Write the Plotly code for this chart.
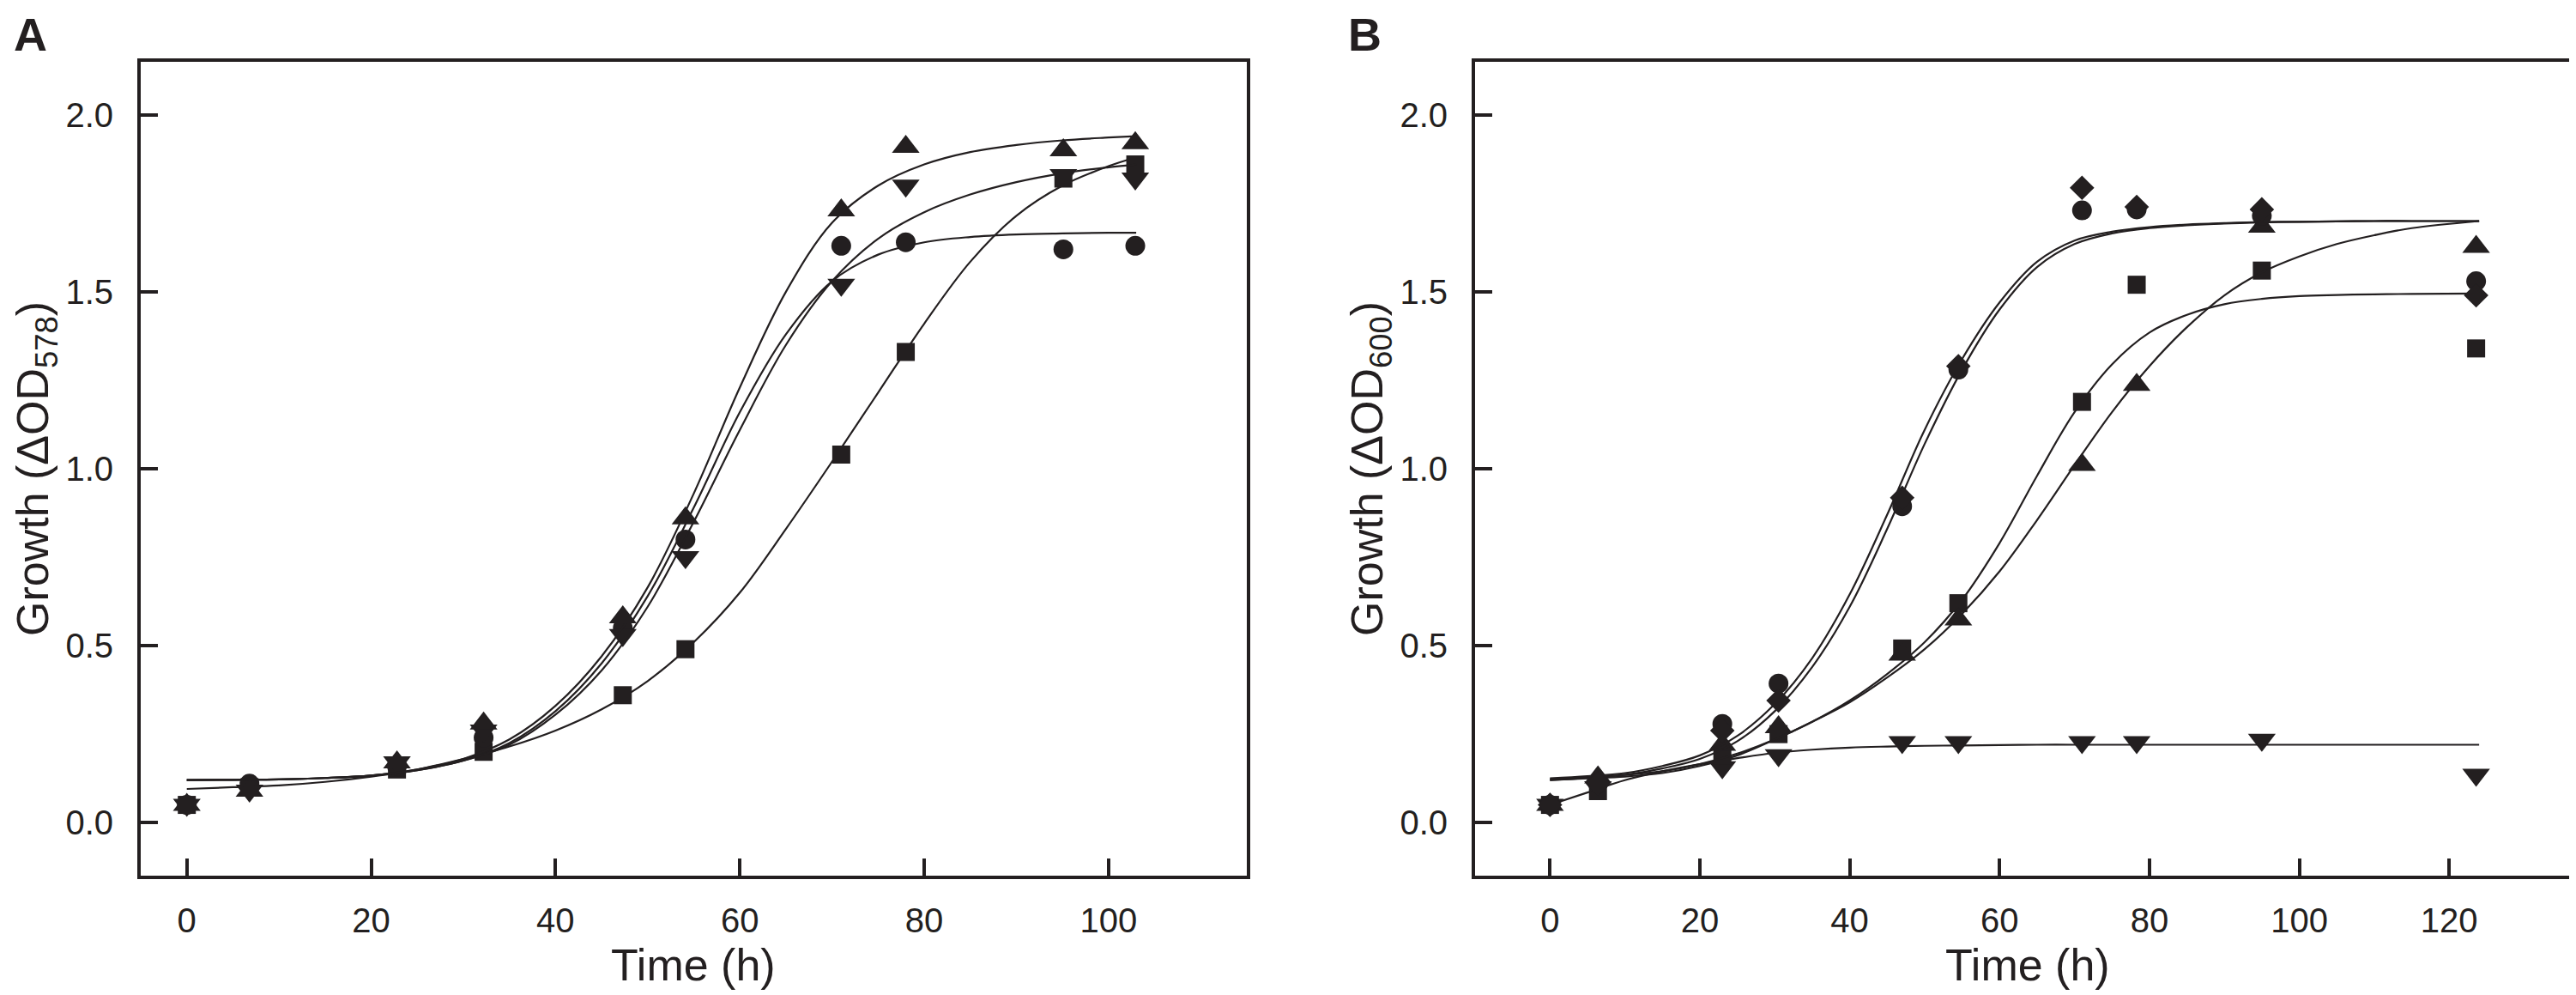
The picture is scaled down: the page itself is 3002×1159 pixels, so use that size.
import plotly.graph_objects as go

INK = "#231f20"
FONT = "Liberation Sans, Arial, sans-serif"

# ---- panel A: growth measured at OD578 ----
time_a = [0, 6.8, 22.8, 32.2, 47.3, 54.1, 71.0, 78.0, 95.1, 102.9]
a_tri_up = [0.05, 0.09, 0.17, 0.28, 0.58, 0.86, 1.73, 1.91, 1.90, 1.92]
a_tri_down = [0.05, 0.09, 0.17, 0.26, 0.53, 0.75, 1.52, 1.80, 1.83, 1.82]
a_circle = [0.05, 0.11, 0.16, 0.24, 0.55, 0.80, 1.63, 1.64, 1.62, 1.63]
a_square = [0.05, 0.10, 0.15, 0.20, 0.36, 0.49, 1.04, 1.33, 1.82, 1.86]

# fitted curves, every 5 h
fit_time_a = [0, 5, 10, 15, 20, 25, 30, 35, 40, 45, 50, 55, 60, 65, 70, 75, 80, 85, 90, 95, 100, 103]
fit_a_tri_up = [0.12, 0.121, 0.122, 0.126, 0.133, 0.15, 0.18, 0.235, 0.33, 0.47, 0.665, 0.93, 1.23, 1.50, 1.695, 1.80, 1.86, 1.895, 1.915, 1.928, 1.936, 1.94]
fit_a_circle = [0.12, 0.121, 0.122, 0.126, 0.133, 0.148, 0.175, 0.225, 0.315, 0.45, 0.64, 0.89, 1.16, 1.38, 1.53, 1.605, 1.64, 1.655, 1.662, 1.665, 1.667, 1.667]
fit_a_tri_down = [0.12, 0.121, 0.122, 0.126, 0.133, 0.148, 0.175, 0.22, 0.305, 0.43, 0.61, 0.85, 1.11, 1.35, 1.53, 1.65, 1.725, 1.775, 1.81, 1.835, 1.852, 1.86]
fit_a_square = [0.095, 0.10, 0.105, 0.115, 0.13, 0.15, 0.18, 0.215, 0.26, 0.32, 0.40, 0.51, 0.65, 0.83, 1.02, 1.215, 1.41, 1.585, 1.715, 1.80, 1.855, 1.88]

# ---- panel B: growth measured at OD600 ----
time_b = [0, 6.4, 23.0, 30.5, 47.0, 54.5, 71.0, 78.3, 95.0, 123.6]
b_diamond = [0.05, 0.11, 0.26, 0.345, 0.918, 1.29, 1.794, 1.74, 1.733, 1.49]
b_circle = [0.05, 0.11, 0.279, 0.393, 0.894, 1.28, 1.73, 1.733, 1.715, 1.53]
b_tri_up = [0.05, 0.128, 0.22, 0.27, 0.475, 0.574, 1.011, 1.237, 1.684, 1.627]
b_square = [0.05, 0.089, 0.19, 0.25, 0.492, 0.62, 1.189, 1.52, 1.56, 1.34]
b_tri_down = [0.05, 0.10, 0.156, 0.19, 0.227, 0.227, 0.227, 0.227, 0.234, 0.135]

fit_time_b = [0, 5, 10, 15, 20, 25, 30, 35, 40, 45, 50, 55, 60, 65, 70, 75, 80, 85, 90, 95, 100, 105, 110, 115, 124]
fit_b_diamond = [0.125, 0.131, 0.14, 0.16, 0.19, 0.245, 0.335, 0.465, 0.645, 0.87, 1.11, 1.31, 1.47, 1.585, 1.645, 1.67, 1.683, 1.69, 1.694, 1.697, 1.698, 1.699, 1.70, 1.70, 1.70]
fit_b_circle = [0.12, 0.126, 0.135, 0.153, 0.18, 0.23, 0.315, 0.44, 0.61, 0.83, 1.07, 1.28, 1.45, 1.57, 1.635, 1.665, 1.68, 1.688, 1.693, 1.696, 1.698, 1.699, 1.70, 1.70, 1.70]
fit_b_tri_up = [0.123, 0.128, 0.135, 0.145, 0.165, 0.195, 0.235, 0.285, 0.34, 0.41, 0.49, 0.59, 0.71, 0.855, 1.01, 1.16, 1.29, 1.40, 1.49, 1.555, 1.60, 1.635, 1.66, 1.68, 1.70]
fit_b_square = [0.12, 0.125, 0.13, 0.14, 0.16, 0.19, 0.235, 0.285, 0.345, 0.42, 0.51, 0.63, 0.79, 0.98, 1.16, 1.295, 1.385, 1.435, 1.465, 1.48, 1.488, 1.491, 1.493, 1.494, 1.495]
fit_b_tri_down = [0.05, 0.085, 0.12, 0.145, 0.165, 0.182, 0.197, 0.206, 0.212, 0.215, 0.217, 0.218, 0.219, 0.22, 0.22, 0.22, 0.22, 0.22, 0.22, 0.22, 0.22, 0.22, 0.22, 0.22, 0.22]

y_ticks = [0, 0.5, 1.0, 1.5, 2.0]

MARKER_SIZES = {"circle": 23, "square": 21, "triangle-up": 28, "triangle-down": 28, "diamond": 22}

W, H = 3002, 1159


def add_series(fig, times, values, fit_t, fit_v, symbol, xaxis, yaxis):
    fig.add_trace(
        go.Scatter(
            x=fit_t, y=fit_v, mode="lines", line=dict(color=INK, width=2.2, shape="spline"),
            xaxis=xaxis, yaxis=yaxis, hoverinfo="skip",
        )
    )
    fig.add_trace(
        go.Scatter(
            x=times, y=values, mode="markers", xaxis=xaxis, yaxis=yaxis,
            marker=dict(symbol=symbol, size=MARKER_SIZES[symbol], color=INK, line=dict(width=0)),
        )
    )


fig = go.Figure()

add_series(fig, time_a, a_square, fit_time_a, fit_a_square, "square", "x", "y")
add_series(fig, time_a, a_circle, fit_time_a, fit_a_circle, "circle", "x", "y")
add_series(fig, time_a, a_tri_down, fit_time_a, fit_a_tri_down, "triangle-down", "x", "y")
add_series(fig, time_a, a_tri_up, fit_time_a, fit_a_tri_up, "triangle-up", "x", "y")

add_series(fig, time_b, b_tri_down, fit_time_b, fit_b_tri_down, "triangle-down", "x2", "y2")
add_series(fig, time_b, b_square, fit_time_b, fit_b_square, "square", "x2", "y2")
add_series(fig, time_b, b_tri_up, fit_time_b, fit_b_tri_up, "triangle-up", "x2", "y2")
add_series(fig, time_b, b_circle, fit_time_b, fit_b_circle, "circle", "x2", "y2")
add_series(fig, time_b, b_diamond, fit_time_b, fit_b_diamond, "diamond", "x2", "y2")

axis_style = dict(
    showline=True,
    linecolor=INK,
    linewidth=4,
    mirror=True,
    ticks="inside",
    ticklen=20,
    tickwidth=4,
    tickcolor=INK,
    showgrid=False,
    zeroline=False,
    tickfont=dict(family=FONT, size=40, color=INK),
)

# pixel boxes of the two frames, turned into paper fractions
y_dom = [(H - 1012) / H, (H - 64) / H]

fig.update_layout(
    width=W,
    height=H,
    margin=dict(l=0, r=0, t=0, b=0),
    paper_bgcolor="white",
    plot_bgcolor="white",
    showlegend=False,
    xaxis=dict(axis_style, domain=[156 / W, 1445 / W], range=[-5, 115],
               tickvals=[0, 20, 40, 60, 80, 100], anchor="y", ticklabelstandoff=14),
    yaxis=dict(axis_style, domain=y_dom, range=[-0.15, 2.15], tickvals=y_ticks,
               tickformat=".1f", anchor="x", ticklabelstandoff=20),
    xaxis2=dict(axis_style, domain=[1711 / W, 2999 / W], range=[-10, 137.5],
                tickvals=[0, 20, 40, 60, 80, 100, 120], anchor="y2", ticklabelstandoff=14),
    yaxis2=dict(axis_style, domain=y_dom, range=[-0.15, 2.15], tickvals=y_ticks,
                tickformat=".1f", anchor="x2", ticklabelstandoff=20),
)

title_font = dict(family=FONT, size=52, color=INK)
panel_font = dict(family=FONT, size=54, color=INK)
labels = [
    dict(text="<b>A</b>", x=6 / W, y=1, xanchor="left", yanchor="top", font=panel_font),
    dict(text="<b>B</b>", x=1561 / W, y=1, xanchor="left", yanchor="top", font=panel_font),
    dict(text="Growth (ΔOD<sub>578</sub>)", x=34 / W, y=1 - 538 / H, textangle=-90,
         xanchor="center", yanchor="middle", font=title_font),
    dict(text="Growth (ΔOD<sub>600</sub>)", x=1589 / W, y=1 - 538 / H, textangle=-90,
         xanchor="center", yanchor="middle", font=title_font),
    dict(text="Time (h)", x=800 / W, y=1 - 1116 / H, xanchor="center", yanchor="middle", font=title_font),
    dict(text="Time (h)", x=2355 / W, y=1 - 1116 / H, xanchor="center", yanchor="middle", font=title_font),
]
for a in labels:
    a.update(xref="paper", yref="paper", showarrow=False)
fig.update_layout(annotations=labels)

fig.write_html("out.html")
